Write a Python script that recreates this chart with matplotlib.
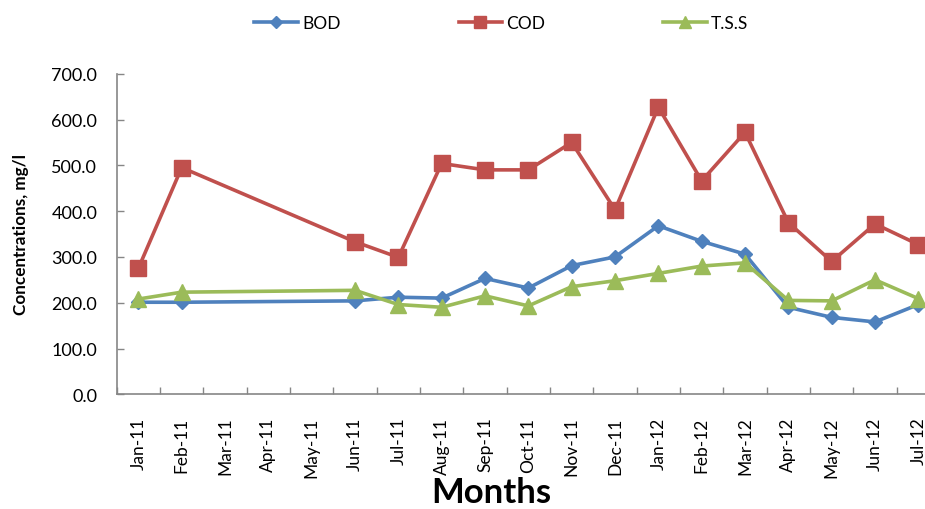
import numpy as np
import matplotlib
matplotlib.use("Agg")
import matplotlib.pyplot as plt

plt.rcParams['font.family'] = ['Lato', 'DejaVu Sans']

months = ["Jan-11", "Feb-11", "Mar-11", "Apr-11", "May-11", "Jun-11", "Jul-11",
          "Aug-11", "Sep-11", "Oct-11", "Nov-11", "Dec-11", "Jan-12", "Feb-12",
          "Mar-12", "Apr-12", "May-12", "Jun-12", "Jul-12"]
nan = np.nan
bod = [201, 201, nan, nan, nan, 204, 212, 210, 253, 232, 281, 300, 368, 334,
       306, 190, 168, 158, 196]
cod = [275, 495, nan, nan, nan, 333, 299, 504, 490, 490, 550, 403, 627, 466,
       572, 375, 290, 372, 327]
tss = [208, 223, nan, nan, nan, 227, 196, 190, 215, 193, 235, 248, 264, 280,
       287, 205, 204, 250, 209]

W, H = 925, 510
fig = plt.figure(figsize=(W / 100, H / 100), dpi=100)
# axes extends slightly past the right figure edge
left, right, bottom, top = 116.7, 940.0, 395.3, 74.7
ax = fig.add_axes([left / W, 1 - bottom / H, (right - left) / W, (bottom - top) / H])

x = np.arange(len(months))
styles = [
    ("BOD", bod, "#4F81BD", "D", 7.5),
    ("COD", cod, "#C0504D", "s", 11),
    ("T.S.S", tss, "#9BBB59", "^", 11),
]
for name, vals, color, marker, ms in styles:
    v = np.array(vals, dtype=float)
    m = ~np.isnan(v)
    ax.plot(x[m], v[m], color=color, lw=2.6, marker=marker, ms=ms,
            mec=color, mfc=color, label=name, clip_on=False, zorder=3)

ax.set_xlim(-0.5, len(months) - 0.5)
ax.set_ylim(0, 700)
ax.set_yticks(np.arange(0, 701, 100))
ax.set_yticklabels([f"{v:.1f}" for v in np.arange(0, 701, 100)])

ax.set_xticks(np.arange(-0.5, len(months), 1.0))
ax.set_xticklabels([])
ax.set_xticks(x, minor=True)
ax.set_xticklabels(months, minor=True, rotation=90)

gray = "#868686"
for s in ("top", "right"):
    ax.spines[s].set_visible(False)
for s in ("left", "bottom"):
    ax.spines[s].set_color(gray)
    ax.spines[s].set_linewidth(1.2)
ax.tick_params(axis="y", direction="in", length=5, width=1, color=gray,
               labelsize=13, pad=14)
ax.tick_params(axis="x", which="major", direction="in", length=5, width=1, color=gray)
ax.tick_params(axis="x", which="minor", length=0, labelsize=12.5, pad=16)

fig.text(21 / W, 1 - 235 / H, "Concentrations, mg/l", rotation=90, ha="center",
         va="center", fontsize=12.3, fontweight="bold")
fig.text(491 / W, 1 - 503 / H, "Months", ha="center", va="baseline",
         fontsize=25, fontweight="bold")

fig.legend(loc="center", bbox_to_anchor=(0.542, 1 - 24 / H), ncol=3, frameon=False,
           fontsize=12.5, handlelength=2.5, handletextpad=0.25, columnspacing=6.8,
           markerscale=0.8)

fig.savefig("out.png", dpi=100)
